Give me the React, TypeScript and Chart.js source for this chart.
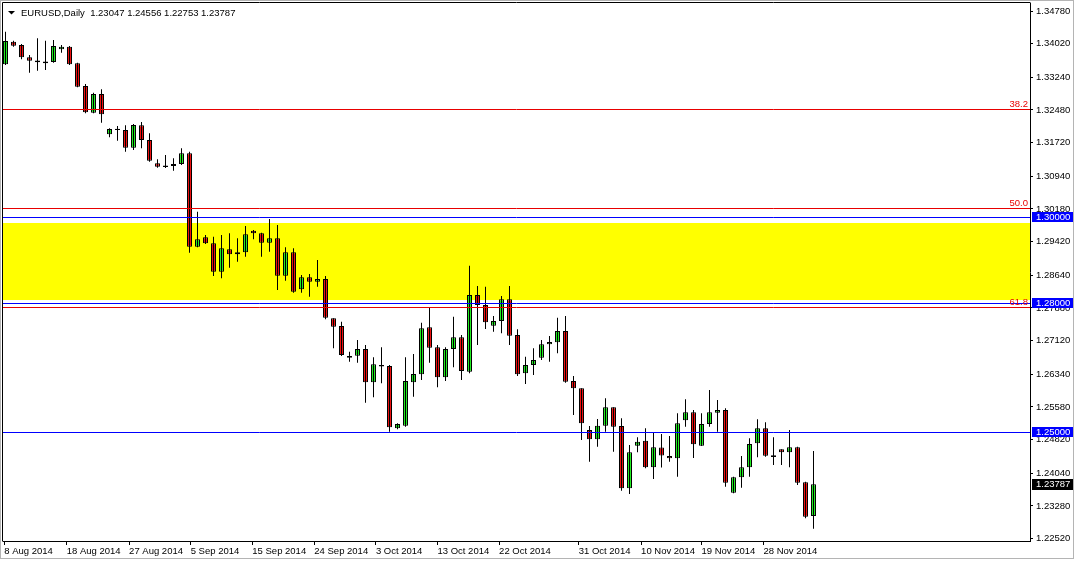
import React, { useEffect, useRef } from "react";
import { Chart, registerables } from "chart.js";

Chart.register(...registerables);

// ---- data (daily EURUSD candles) ----
const symbolName = "EURUSD,Daily";

const opens = [
  1.33542, 1.34067, 1.3399, 1.33704, 1.3363, 1.33607, 1.33595, 1.3389, 1.33951, 1.33565,
  1.33037, 1.32417, 1.32852, 1.31915, 1.32045, 1.32015, 1.31604, 1.32124, 1.31783, 1.31241,
  1.31193, 1.31179, 1.31225, 1.31474, 1.29304, 1.29522, 1.29383, 1.28723, 1.29243, 1.29127,
  1.29174, 1.29676, 1.29615, 1.29397, 1.29499, 1.2863, 1.29174, 1.28314, 1.28593, 1.28491,
  1.28553, 1.2764, 1.27461, 1.26764, 1.26771, 1.26927, 1.26153, 1.26555, 1.26532, 1.25084,
  1.25145, 1.26153, 1.26339, 1.27431, 1.26966, 1.26269, 1.26927, 1.27199, 1.264, 1.28182,
  1.27949, 1.27468, 1.27578, 1.28082, 1.27252, 1.26362, 1.26555, 1.26725, 1.27036, 1.27083,
  1.27345, 1.26183, 1.26014, 1.25045, 1.24829, 1.25145, 1.25572, 1.25138, 1.2369, 1.2468,
  1.24796, 1.24178, 1.24638, 1.24441, 1.24387, 1.2527, 1.25456, 1.2468, 1.25184, 1.25447,
  1.2551, 1.23588, 1.23946, 1.24178, 1.24736, 1.25084, 1.24457, 1.24597, 1.24527, 1.24643,
  1.2383, 1.23047,
];
const highs = [
  1.34299, 1.3409, 1.34013, 1.33758, 1.34146, 1.3409, 1.34106, 1.3399, 1.33967, 1.33579,
  1.33084, 1.32882, 1.32961, 1.32055, 1.32108, 1.32124, 1.32155, 1.32201, 1.31939, 1.31334,
  1.31434, 1.31358, 1.3159, 1.31511, 1.30117, 1.29576, 1.29536, 1.29576, 1.29615, 1.29499,
  1.29785, 1.29692, 1.29629, 1.29947, 1.29808, 1.2929, 1.29267, 1.28646, 1.2867, 1.28995,
  1.28623, 1.2764, 1.27561, 1.26864, 1.27136, 1.2702, 1.26734, 1.26966, 1.26555, 1.25201,
  1.26734, 1.26811, 1.27538, 1.27896, 1.2702, 1.26966, 1.27677, 1.27252, 1.28862, 1.28391,
  1.28374, 1.27694, 1.28158, 1.28391, 1.27385, 1.26748, 1.26943, 1.27136, 1.27229, 1.27654,
  1.27694, 1.263, 1.26014, 1.25138, 1.253, 1.25782, 1.25572, 1.25317, 1.24696, 1.24875,
  1.25084, 1.24982, 1.24952, 1.24906, 1.25433, 1.25758, 1.2551, 1.25433, 1.25974, 1.25742,
  1.25549, 1.2396, 1.24441, 1.24852, 1.25294, 1.25224, 1.24875, 1.24597, 1.25045, 1.24657,
  1.23844, 1.24556,
];
const lows = [
  1.33525, 1.33951, 1.33658, 1.33347, 1.33393, 1.33409, 1.33579, 1.33811, 1.33525, 1.33007,
  1.32403, 1.32403, 1.32185, 1.31846, 1.31767, 1.31511, 1.31551, 1.3159, 1.31279, 1.31139,
  1.31132, 1.3107, 1.31202, 1.29164, 1.2929, 1.29367, 1.28623, 1.2857, 1.28816, 1.28955,
  1.29071, 1.29476, 1.29071, 1.29188, 1.28298, 1.28514, 1.28235, 1.28235, 1.28142, 1.28374,
  1.27617, 1.26943, 1.26764, 1.26632, 1.26609, 1.25679, 1.25805, 1.2613, 1.25006, 1.25061,
  1.25122, 1.25819, 1.26207, 1.26609, 1.26037, 1.26183, 1.26502, 1.26207, 1.26362, 1.2702,
  1.27392, 1.27329, 1.27292, 1.2702, 1.263, 1.26114, 1.26323, 1.26671, 1.26632, 1.26827,
  1.26144, 1.25394, 1.24813, 1.24308, 1.24657, 1.25006, 1.24541, 1.23635, 1.23558, 1.24527,
  1.24155, 1.23907, 1.24174, 1.24308, 1.2396, 1.25122, 1.24394, 1.24673, 1.25122, 1.25006,
  1.23728, 1.23574, 1.23704, 1.2396, 1.24411, 1.24425, 1.24232, 1.24232, 1.24178, 1.23767,
  1.22993, 1.22753,
];
const closes = [
  1.34083, 1.33974, 1.33704, 1.33625, 1.3359, 1.33567, 1.33967, 1.33951, 1.33542, 1.33021,
  1.32426, 1.32852, 1.3238, 1.32038, 1.32015, 1.31604, 1.32131, 1.31783, 1.31302, 1.31162,
  1.31153, 1.31225, 1.31474, 1.29304, 1.29476, 1.29383, 1.28723, 1.29267, 1.29127, 1.29174,
  1.29592, 1.29615, 1.29397, 1.29499, 1.2863, 1.29174, 1.28258, 1.28593, 1.28491, 1.28553,
  1.27654, 1.27445, 1.26788, 1.26724, 1.26927, 1.26153, 1.26571, 1.2652, 1.25108, 1.25184,
  1.26183, 1.26346, 1.27408, 1.26957, 1.26269, 1.26927, 1.27199, 1.26416, 1.28182, 1.27949,
  1.27547, 1.27578, 1.28082, 1.27236, 1.26339, 1.26555, 1.26671, 1.27036, 1.2709, 1.27345,
  1.26167, 1.26014, 1.25201, 1.24829, 1.25145, 1.25572, 1.25122, 1.2369, 1.24527, 1.24773,
  1.24178, 1.24643, 1.24453, 1.24387, 1.25201, 1.25456, 1.24713, 1.25184, 1.25456, 1.2551,
  1.23821, 1.23946, 1.24178, 1.2472, 1.25084, 1.24448, 1.2442, 1.24527, 1.24643, 1.23821,
  1.23031, 1.23787,
];

const yTickValues = [
  1.3478, 1.3402, 1.3324, 1.3248, 1.3172, 1.3094, 1.3018, 1.2942, 1.2864, 1.2788,
  1.2712, 1.2634, 1.2558, 1.2482, 1.2404, 1.2328, 1.2252,
];
const xTickLabels = [
  "8 Aug 2014", "18 Aug 2014", "27 Aug 2014", "5 Sep 2014", "15 Sep 2014", "24 Sep 2014",
  "3 Oct 2014", "13 Oct 2014", "22 Oct 2014", "31 Oct 2014", "10 Nov 2014", "19 Nov 2014",
  "28 Nov 2014",
];
const xTickBarIndex = [-0.15, 7.65, 15.45, 23.15, 30.85, 38.6, 46.3, 54.0, 61.7, 71.65, 79.45, 87.0, 94.75];

const levelLines = [1.3, 1.28, 1.25];
const fibLevels = [1.32496, 1.30203, 1.2791];
const fibLabels = ["38.2", "50.0", "61.8"];
const zoneBounds = [1.28065, 1.29854];

// ---- styles ----
const FONT = "Liberation Sans";
const UP = "#22ee22";
const DOWN = "#ee1111";
const BLUE = "#0000ff";
const FIBRED = "#e80000";

const overlayPlugin = {
  id: "mt4overlay",
  beforeDraw(chart: any) {
    const { ctx, width, height } = chart;
    ctx.save();
    ctx.fillStyle = "#ffffff";
    ctx.fillRect(0, 0, width, height);
    ctx.strokeStyle = "#b4b4b4";
    ctx.lineWidth = 1;
    ctx.strokeRect(0.5, 0.5, 1073, 558);
    ctx.restore();
  },
  beforeDatasetsDraw(chart: any) {
    const { ctx, chartArea } = chart;
    const ys = chart.scales.y;
    const yTop = Math.round(ys.getPixelForValue(zoneBounds[1]));
    const yBot = Math.round(ys.getPixelForValue(zoneBounds[0]));
    ctx.save();
    ctx.fillStyle = "#ffff00";
    ctx.fillRect(chartArea.left, yTop, chartArea.right - chartArea.left, yBot - yTop);
    ctx.restore();
  },
  afterDatasetsDraw(chart: any) {
    const { ctx, chartArea } = chart;
    const ys = chart.scales.y;
    ctx.save();
    ctx.lineWidth = 1;
    const hline = (v: number, color: string) => {
      const y = Math.round(ys.getPixelForValue(v)) + 0.5;
      ctx.strokeStyle = color;
      ctx.beginPath();
      ctx.moveTo(chartArea.left, y);
      ctx.lineTo(chartArea.right, y);
      ctx.stroke();
    };
    fibLevels.forEach((v) => hline(v, FIBRED));
    levelLines.forEach((v) => hline(v, BLUE));
    ctx.font = `9.5px "${FONT}"`;
    ctx.fillStyle = FIBRED;
    ctx.textAlign = "right";
    ctx.textBaseline = "alphabetic";
    fibLevels.forEach((v, i) => {
      const y = Math.round(ys.getPixelForValue(v));
      ctx.fillText(fibLabels[i], chartArea.right - 2, y - 2);
    });
    ctx.restore();
  },
  afterDraw(chart: any) {
    const { ctx, chartArea } = chart;
    const ys = chart.scales.y;
    ctx.save();
    // frame (left & top)
    ctx.strokeStyle = "#000";
    ctx.lineWidth = 1;
    ctx.beginPath();
    ctx.moveTo(chartArea.left - 0.5, chartArea.bottom + 0.5);
    ctx.lineTo(chartArea.left - 0.5, chartArea.top - 0.5);
    ctx.lineTo(chartArea.right + 0.5, chartArea.top - 0.5);
    ctx.stroke();
    // price tags
    ctx.font = `9.5px "${FONT}"`;
    ctx.textAlign = "left";
    ctx.textBaseline = "middle";
    const tag = (v: number, bg: string, h: number) => {
      const y = Math.round(ys.getPixelForValue(v));
      ctx.fillStyle = bg;
      ctx.fillRect(chartArea.right + 2, y - Math.floor(h / 2), 41, h);
      ctx.fillStyle = "#ffffff";
      ctx.fillText(v.toFixed(5), chartArea.right + 6, y + 0.5);
    };
    levelLines.forEach((v) => tag(v, BLUE, 10));
    tag(closes[closes.length - 1], "#000000", 11);
    // title
    ctx.fillStyle = "#000";
    ctx.beginPath();
    ctx.moveTo(8, 11);
    ctx.lineTo(15, 11);
    ctx.lineTo(11.5, 14.5);
    ctx.closePath();
    ctx.fill();
    const n = opens.length - 1;
    const title = `${symbolName}  ${opens[n].toFixed(5)} ${highs[n].toFixed(5)} ${lows[n].toFixed(5)} ${closes[n].toFixed(5)}`;
    ctx.textBaseline = "middle";
    ctx.fillText(title, 21, 13);
    ctx.restore();
  },
};

export default function App() {
  const canvasRef = useRef<HTMLCanvasElement | null>(null);

  useEffect(() => {
    const canvas = canvasRef.current;
    if (!canvas) return;
    const wickData = opens.map((_, i) => ({ x: i, y: [lows[i], highs[i]] }));
    const bodyData = opens.map((o, i) => ({ x: i, y: [o, closes[i]] }));
    const bodyColors = opens.map((o, i) => (closes[i] >= o ? UP : DOWN));

    const chart = new Chart(canvas, {
      type: "bar",
      data: {
        datasets: [
          {
            data: wickData as any,
            backgroundColor: "#000000",
            borderWidth: 0,
            barThickness: 1,
            inflateAmount: 0,
            grouped: false,
          } as any,
          {
            data: bodyData as any,
            backgroundColor: bodyColors,
            borderColor: "#000000",
            borderWidth: 1,
            borderSkipped: false,
            barThickness: 5,
            inflateAmount: 0,
            grouped: false,
          } as any,
        ],
      },
      options: {
        animation: false,
        responsive: false,
        devicePixelRatio: 1,
        events: [],
        layout: { padding: { left: 3, top: 3, right: 0, bottom: 0 }, autoPadding: false } as any,
        plugins: { legend: { display: false }, tooltip: { enabled: false }, title: { display: false } },
        scales: {
          x: {
            type: "linear",
            position: "bottom",
            offset: false,
            min: -0.3125,
            max: 128.0625,
            bounds: "data",
            afterFit: (s: any) => {
              s.height = 21;
              s.paddingLeft = 0;
              s.paddingRight = 0;
            },
            afterBuildTicks: (s: any) => {
              s.ticks = xTickBarIndex.map((v) => ({ value: v }));
            },
            grid: { display: true, offset: false, drawOnChartArea: false, drawTicks: true, tickLength: 4, color: "#000" },
            border: { display: true, color: "#000" },
            ticks: {
              autoSkip: false,
              maxRotation: 0,
              align: "start",
              padding: 1,
              color: "#000",
              font: { family: FONT, size: 9.5 },
              callback: (_v: any, i: number) => xTickLabels[i],
            },
          } as any,
          y: {
            type: "linear",
            position: "right",
            offset: false,
            min: 1.224665,
            max: 1.349659,
            bounds: "data",
            afterFit: (s: any) => {
              s.width = 45;
              s.paddingTop = 0;
              s.paddingBottom = 0;
            },
            afterBuildTicks: (s: any) => {
              s.ticks = yTickValues.map((v) => ({ value: v }));
            },
            grid: { display: true, drawOnChartArea: false, drawTicks: true, tickLength: 3, color: "#000" },
            border: { display: true, color: "#000" },
            ticks: {
              autoSkip: false,
              padding: 3,
              color: "#000",
              font: { family: FONT, size: 9.5 },
              callback: (v: any) => Number(v).toFixed(5),
            },
          } as any,
        },
      },
      plugins: [overlayPlugin],
    });
    return () => chart.destroy();
  }, []);

  return (
    <div style={{ position: "fixed", left: 0, top: 0, width: 1075, height: 562, background: "#fff" }}>
      <canvas ref={canvasRef} width={1075} height={562} style={{ display: "block", width: 1075, height: 562 }} />
    </div>
  );
}
